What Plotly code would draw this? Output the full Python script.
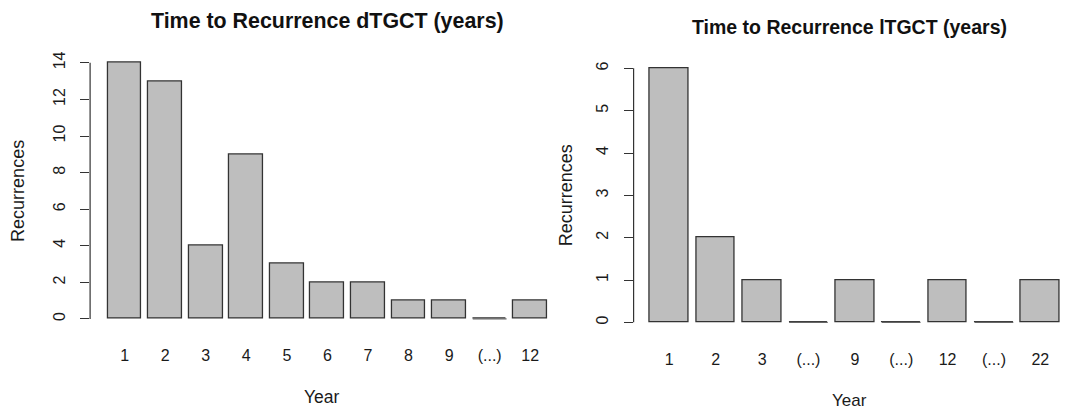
import plotly.graph_objects as go

# ---- data ----
left_years = ["1", "2", "3", "4", "5", "6", "7", "8", "9", "(...)", "12"]
left_counts = [14, 13, 4, 9, 3, 2, 2, 1, 1, 0, 1]
right_years = ["1", "2", "3", "(...)", "9", "(...)", "12", "(...)", "22"]
right_counts = [6, 2, 1, 0, 1, 0, 1, 0, 1]
left_yticks = [0, 2, 4, 6, 8, 10, 12, 14]
right_yticks = [0, 1, 2, 3, 4, 5, 6]

left_title = "Time to Recurrence dTGCT (years)"
right_title = "Time to Recurrence lTGCT (years)"

W, H = 1068, 409
FONT = "Liberation Sans, Arial, Helvetica, sans-serif"
FILL = "#bebebe"
EDGE = "#333333"

# R barplot geometry: width 1, space 0.2
def centers(n):
    return [0.7 + 1.2 * i for i in range(n)]

panels = [
    dict(cats=left_years, vals=left_counts, ticks=left_yticks, ax="", title=left_title,
         xdom=[90.1 / W, 564.7 / W], xr=[-0.32, 13.72],
         ydom=[(H - 329.2) / H, (H - 52.6) / H],
         tfont=21.4, tickfont=16, labfont=17.5, ty=21, tx=327, yearY=397, yearX=322,
         reclabX=18),
    dict(cats=right_years, vals=right_counts, ticks=right_yticks, ax="2", title=right_title,
         xdom=[633.6 / W, 1.0], xr=[-0.224, 11.015],
         ydom=[(H - 332.5) / H, (H - 58.2) / H],
         tfont=19.5, tickfont=16, labfont=17, ty=27, tx=849.4, yearY=400, yearX=849,
         reclabX=566),
]

fig = go.Figure()

for p in panels:
    xs = centers(len(p["cats"]))
    xa = "x" + p["ax"]
    ya = "y" + p["ax"]
    fig.add_trace(go.Bar(
        x=xs, y=p["vals"], width=1.0,
        marker=dict(color=FILL, line=dict(color=EDGE, width=1.3)),
        xaxis=xa, yaxis=ya, showlegend=False, hoverinfo="x+y",
    ))
    # zero-height bars drawn as flat outlines (as R does)
    for xc, v in zip(xs, p["vals"]):
        if v == 0:
            fig.add_trace(go.Scatter(
                x=[xc - 0.5, xc + 0.5], y=[v, v], mode="lines",
                line=dict(color="#666666", width=1.3),
                xaxis=xa, yaxis=ya, showlegend=False, hoverinfo="skip",
            ))
    mx = max(p["ticks"])
    xkey = "xaxis" + p["ax"]
    ykey = "yaxis" + p["ax"]
    fig.layout[xkey] = dict(
        domain=p["xdom"], range=p["xr"], anchor=ya,
        tickmode="array", tickvals=xs, ticktext=p["cats"],
        showgrid=False, zeroline=False, showline=False, ticks="",
        tickfont=dict(family=FONT, size=p["tickfont"], color="#1a1a1a"),
        ticklabelstandoff=15, fixedrange=True,
    )
    fig.layout[ykey] = dict(
        domain=p["ydom"], range=[-0.04 * mx, 1.04 * mx], anchor=xa,
        tickmode="array", tickvals=p["ticks"], ticktext=[str(t) for t in p["ticks"]],
        tickangle=-90, ticks="outside", ticklen=9, tickwidth=1.2, tickcolor=EDGE,
        showgrid=False, zeroline=False, showline=False,
        tickfont=dict(family=FONT, size=p["tickfont"], color="#1a1a1a"),
        ticklabelstandoff=9, fixedrange=True,
    )
    # R-style axis line spanning only first to last tick
    fig.add_shape(type="line", xref=xa + " domain", yref=ya,
                  x0=0, x1=0, y0=min(p["ticks"]), y1=mx,
                  line=dict(color=EDGE, width=1.2))
    fig.add_annotation(text="<b>" + p["title"] + "</b>", xref="paper", yref="paper",
                       x=p["tx"] / W, y=1 - p["ty"] / H, showarrow=False,
                       font=dict(family=FONT, size=p["tfont"], color="#111"),
                       xanchor="center", yanchor="middle")
    fig.add_annotation(text="Year", xref="paper", yref="paper",
                       x=p["yearX"] / W, y=1 - p["yearY"] / H, showarrow=False,
                       font=dict(family=FONT, size=p["labfont"], color="#1a1a1a"),
                       xanchor="center", yanchor="middle")
    fig.add_annotation(text="Recurrences", xref="paper", yref="paper",
                       x=p["reclabX"] / W, y=(p["ydom"][0] + p["ydom"][1]) / 2,
                       showarrow=False, textangle=-90,
                       font=dict(family=FONT, size=18, color="#1a1a1a"),
                       xanchor="center", yanchor="middle")

fig.update_layout(
    width=W, height=H, margin=dict(l=0, r=0, t=0, b=0),
    paper_bgcolor="white", plot_bgcolor="white", bargap=0,
)
fig.write_html("out.html", config={"displayModeBar": False})
